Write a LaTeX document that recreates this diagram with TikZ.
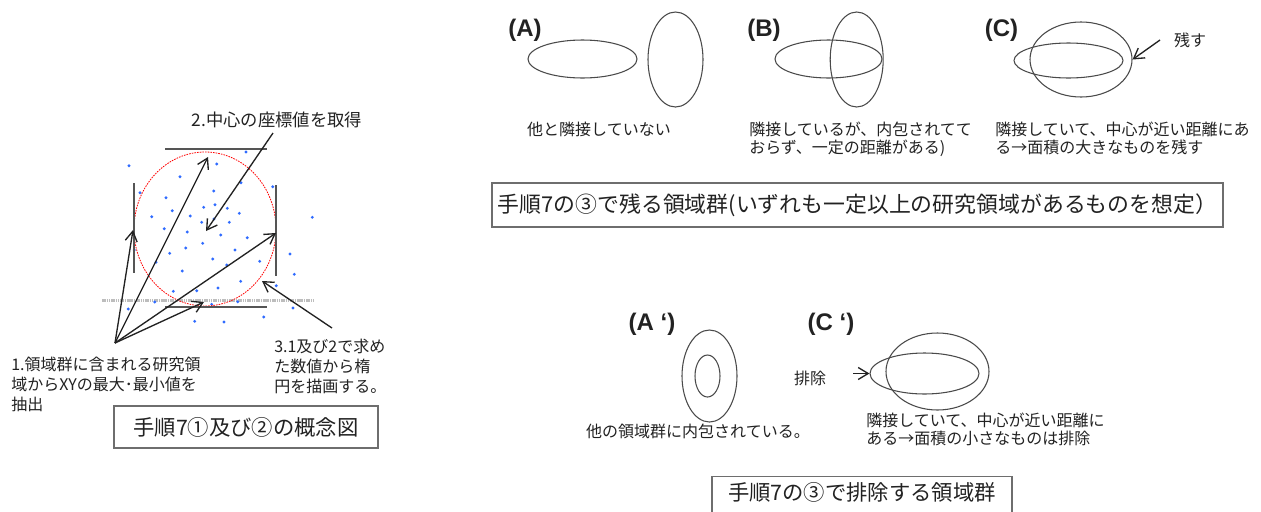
\documentclass[tikz,border=0pt]{standalone}
\usepackage{fontspec}
\setmainfont{Noto Sans CJK JP}
\newfontfamily\labfont{Liberation Sans}
\usetikzlibrary{shapes.geometric,arrows.meta}
\definecolor{ink}{HTML}{222222}
\definecolor{ellc}{HTML}{4A4A4A}
\definecolor{boxc}{HTML}{6E6E6E}
\definecolor{dotc}{HTML}{2F6BFF}
\definecolor{guide}{HTML}{555555}
\definecolor{lgray}{HTML}{BDBDBD}
\begin{document}
\begin{tikzpicture}[x=0.75pt,y=-0.75pt,
  ell/.style={ellipse, draw=ellc, line width=0.8pt, inner sep=0pt},
  txt/.style={font=\fontsize{12}{13.5}\selectfont, text=ink, inner sep=0pt, align=left},
  txtwide/.style={font=\fontsize{12}{15}\selectfont, text=ink, inner sep=0pt, align=left},
  ttl/.style={font=\fontsize{16}{19}\selectfont, text=ink},
  boxst/.style={draw=boxc, line width=1.1pt, inner sep=0pt},
  lab/.style={font=\labfont\bfseries\fontsize{18}{20}\selectfont, text=ink, inner sep=0pt, anchor=base},
  arr/.style={draw=ink, line width=1pt, -{Straight Barb[length=7.5pt,width=9pt]}},
  guideline/.style={draw=guide, line width=1.3pt}]
\useasboundingbox (0,0) rectangle (1261,511);
\fill[white] (0,0) rectangle (1261,511);
\clip (0,0) rectangle (1261,511);

% ---------- left concept diagram ----------
\draw[lgray, line width=1.8pt, dash pattern=on 1.2pt off 0.5pt] (102,300.5) -- (315,300.5);
\foreach \p in {(129,165.7),(246,152),(216.7,164),(180,176.7),(140,192.7),(241,182.7),(272.7,186.7),(213.7,191),(166,197.7),(172.3,210.7),(151.7,216.7),(190.3,216),(203.7,207.3),(215,204.7),(227.3,208.3),(239.3,213.3),(312.3,217.3),(201.7,222.3),(229.3,222.3),(214,219),(164.3,228.7),(187.3,232),(220.7,235),(247.3,237.7),(134.3,250),(185.7,248),(202.7,243.3),(169.7,253.3),(235,250),(290,254),(212.7,259),(226.7,265),(259.7,261.3),(156,262.3),(182.3,271),(294.3,274.3),(276.3,285.7),(240.7,281.3),(218,288),(196.7,290.7),(173.3,291.3),(154.7,302),(211.7,304.3),(237.7,301.7),(128.3,309),(293,308),(194.7,321.3),(224,322),(263.7,317)}
  \fill[dotc] \p circle[radius=1.6];
\node[ellipse, draw=red, dash pattern=on 1.2pt off 0.8pt, line width=0.6pt, minimum width=106.5pt, minimum height=115.5pt, inner sep=0pt] (circ) at (205,229) {};
\draw[guideline] (165,149) -- (267,149);
\draw[guideline] (165,306.7) -- (267,306.7);
\draw[guideline] (134,183) -- (134,273);
\draw[guideline] (276,185) -- (276,276);

\coordinate (orig) at (115,343);
\coordinate (tl) at (133,230);
\coordinate (tt) at (208,157);
\coordinate (tr) at (276,233);
\coordinate (tb) at (204,302);
\draw[arr] (orig) -- (tl);
\draw[arr] (orig) -- (tt);
\draw[arr] (orig) -- (tr);
\draw[arr] (orig) -- (tb);

\node[font=\fontsize{13}{15}\selectfont, text=ink, inner sep=0pt] (t2) at (277,120) {2.中心の座標値を取得};
\coordinate (t2tail) at (273,133);
\coordinate (ctr) at (206,231);
\draw[arr] (t2tail) -- (ctr);

\coordinate (t3tail) at (332,328);
\coordinate (t3tip) at (262,281);
\draw[arr] (t3tail) -- (t3tip);

\node[txtwide, anchor=north west] (t1) at (11,357) {1.領域群に含まれる研究領\\域からXYの最大･最小値を\\抽出};
\node[txtwide, anchor=north west] (t3) at (274,339) {3.1及び2で求め\\た数値から楕\\円を描画する。};

\node[boxst, ttl, minimum width=198pt, minimum height=31.5pt] (box1) at (246,427) {手順7①及び②の概念図};

% ---------- top right: remaining groups ----------
\node[lab] (la) at (525,36) {(A)};
\node[lab] (lb) at (764,36) {(B)};
\node[lab] (lc) at (1001.5,36) {(C)};

\node[ell, minimum width=81.75pt, minimum height=28.5pt] (eA1) at (582.5,59) {};
\node[ell, minimum width=41.25pt, minimum height=71.25pt] (eA2) at (675.5,59.5) {};

\node[ell, minimum width=80.25pt, minimum height=28.5pt] (eB1) at (828.5,59) {};
\node[ell, minimum width=39.75pt, minimum height=71.25pt] (eB2) at (856.7,59.5) {};

\node[ell, minimum width=76.5pt, minimum height=56.25pt] (eC1) at (1081,59.5) {};
\node[ell, minimum width=81.75pt, minimum height=26.25pt] (eC2) at (1068.5,60.5) {};

\node[txt] (nokosu) at (1190,40) {残す};
\coordinate (nokosuTail) at (1160,40);
\draw[arr] (nokosuTail) -- (eC1.east);

\node[txt] (tA) at (599,129) {他と隣接していない};
\node[txt, anchor=north west] (tB) at (749,122) {隣接しているが、内包されてて\\おらず、一定の距離がある)};
\node[txt, anchor=north west] (tC) at (995,122) {隣接していて、中心が近い距離にあ\\る→面積の大きなものを残す};

\node[boxst, ttl, font=\fontsize{16.4}{19}\selectfont, minimum width=548.25pt, minimum height=33pt] (box2) at (857.5,205) {手順7の③で残る領域群(いずれも一定以上の研究領域があるものを想定）};

% ---------- bottom: excluded groups ----------
\node[lab] (lap) at (652,330) {(A ‘)};
\node[lab] (lcp) at (831,330) {(C ‘)};

\node[ell, minimum width=41.25pt, minimum height=69pt] (eAp1) at (709.5,376) {};
\node[ell, minimum width=18.75pt, minimum height=31.5pt] (eAp2) at (707.5,376) {};
\node[txt] (tAp) at (698,431) {他の領域群に内包されている。};

\node[ell, minimum width=81.75pt, minimum height=30.75pt] (eCp1) at (924.5,373.5) {};
\node[ell, minimum width=77.25pt, minimum height=57.75pt] (eCp2) at (937.5,371.5) {};
\node[txt] (haijo) at (810,378) {排除};
\coordinate (haijoTail) at (853,373.5);
\draw[arr] (haijoTail) -- (eCp1.west);
\node[txt, font=\fontsize{12}{13}\selectfont, anchor=north west] (tCp) at (866,413) {隣接していて、中心が近い距離に\\ある→面積の小さなものは排除};

\node[boxst, minimum width=225pt, minimum height=42pt, anchor=north] (box3) at (862,476) {};
\node[ttl, inner sep=0pt] (box3t) at (862,492.5) {手順7の③で排除する領域群};
\end{tikzpicture}
\end{document}
